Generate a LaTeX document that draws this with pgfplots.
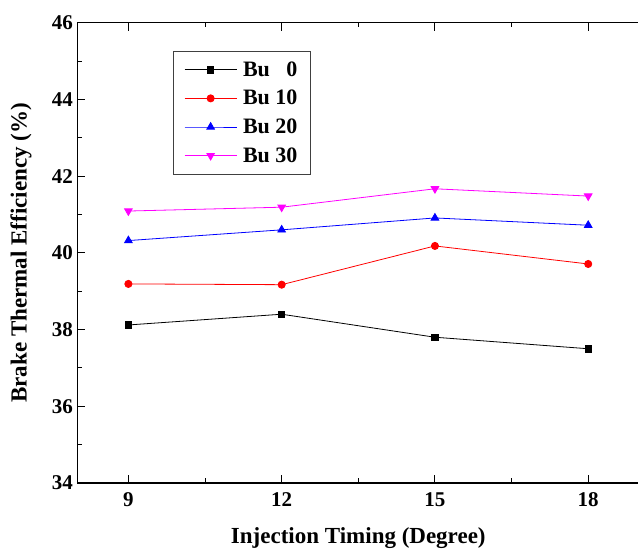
\documentclass[border=0pt]{standalone}
\usepackage{pgfplots}
\pgfplotsset{compat=1.18}
\usepackage{fontspec}
\setmainfont{Liberation Serif}
\definecolor{cblack}{RGB}{0,0,0}
\definecolor{cred}{RGB}{255,0,0}
\definecolor{cblue}{RGB}{0,0,255}
\definecolor{cmag}{RGB}{255,0,255}
\begin{document}
\begin{tikzpicture}
\begin{axis}[
  name=ax,
  scale only axis,
  width=562pt, height=460.3pt,
  xmin=8, xmax=19, ymin=34, ymax=46,
  xtick={9,12,15,18},
  ytick={34,36,...,46},
  minor x tick num=1,
  minor y tick num=1,
  ytick pos=left,
  tick align=inside,
  major tick length=8pt,
  minor tick length=4.5pt,
  every tick/.style={black, line width=0.9pt},
  axis line style={line width=1.2pt},
  tick label style={font=\fontsize{21}{24}\selectfont\bfseries},
  xticklabel style={yshift=-6pt},
  yticklabel style={xshift=-1pt},
  /pgf/number format/assume math mode=true,
  xlabel={Injection Timing (Degree)},
  ylabel={Brake Thermal Efficiency (\%)},
  label style={font=\fontsize{23}{26}\selectfont\bfseries},
  xlabel style={at={(axis description cs:0.5,-0.119)},anchor=center},
  ylabel style={at={(axis description cs:-0.1,0.5)},anchor=center},
  legend style={at={(axis description cs:0.170,0.939)},anchor=north west,
    draw=black!75, line width=0.8pt, font=\fontsize{22}{24}\selectfont\bfseries,
    row sep=8.5pt, inner xsep=11pt, inner ysep=8.5pt,
    /tikz/every odd column/.append style={column sep=4pt}},
  legend cell align=left,
  legend image code/.code={\draw[mark repeat=2,mark phase=2] plot coordinates {(0pt,0pt) (26pt,0pt) (52pt,0pt)};},
]
\addplot[cblack, line width=0.8pt, mark=square*, mark size=3.2pt] coordinates {(9,38.12) (12,38.40) (15,37.80) (18,37.50)};
\addlegendentry{Bu \phantom{1}0}
\addplot[cred, line width=0.8pt, mark=*, mark size=3.6pt] coordinates {(9,39.19) (12,39.17) (15,40.18) (18,39.71)};
\addlegendentry{Bu 10}
\addplot[cblue, line width=0.8pt, mark=triangle*, mark size=4.4pt] coordinates {(9,40.32) (12,40.60) (15,40.91) (18,40.72)};
\addlegendentry{Bu 20}
\addplot[cmag, line width=0.8pt, mark=triangle*, mark options={rotate=180}, mark size=4.4pt] coordinates {(9,41.09) (12,41.19) (15,41.67) (18,41.48)};
\addlegendentry{Bu 30}
\end{axis}
\pgfresetboundingbox
\path[use as bounding box] ([xshift=-77.3pt,yshift=-66pt]ax.south west) rectangle ([xshift=560.7pt,yshift=22.7pt]ax.north west);
\end{tikzpicture}
\end{document}
